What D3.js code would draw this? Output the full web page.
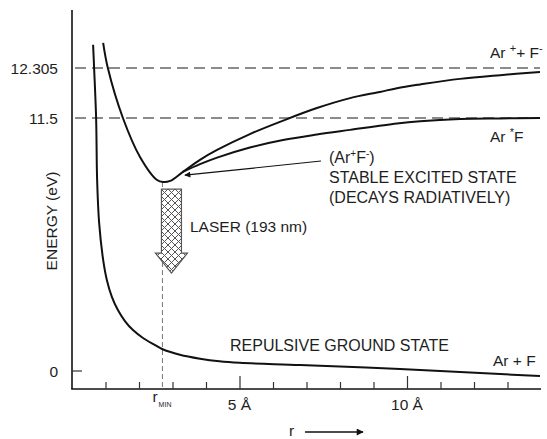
<!DOCTYPE html>
<html>
<head>
<meta charset="utf-8">
<script src="https://cdn.jsdelivr.net/npm/d3@7"></script>
<style>
  html, body { margin: 0; padding: 0; background: #fff; }
  svg { display: block; }
  text { font-family: "Liberation Sans", Arial, Helvetica, sans-serif; fill: #1e1e1e; }
</style>
</head>
<body>
<svg id="chart" width="547" height="439"></svg>
<script>
// ---------------- data (r in Å, energy in eV on the schematic axis) ----------------
const yTickValues = [0, 11.5, 12.305];
const yTickLabels = ["0", "11.5", "12.305"];
const xMinorTicks = [1, 2, 3, 4, 6, 7, 8, 9, 11, 12, 13];
const xMajorTicks = [5, 10];
const xMajorLabels = ["5 Å", "10 Å"];
const rMin = 2.7;
const asymptotes = [12.305, 11.5];

// Repulsive ground state Ar + F
const groundR = [0.63, 0.66, 0.72, 0.75, 0.81, 0.93, 1.04, 1.19, 1.37, 1.58, 1.82, 2.12, 2.48, 2.69, 3.22, 3.82, 4.40, 5.01, 6.81, 9.79, 12.78, 13.97];
const groundE = [12.68, 12.305, 11.5, 8.68, 6.73, 5.05, 4.14, 3.37, 2.77, 2.27, 1.86, 1.50, 1.18, 1.0, 0.74, 0.56, 0.44, 0.37, 0.27, 0.09, -0.14, -0.23];

// Ionic excited state -> Ar+ + F-
const ionicR = [0.93, 1.07, 1.52, 2.03, 2.54, 2.72, 2.93, 3.31, 3.82, 4.33, 5.31, 6.30, 7.31, 8.30, 9.19, 9.70, 10.39, 11.58, 12.78, 13.97];
const ionicE = [12.71, 12.305, 11.5, 9.73, 8.68, 8.59, 8.64, 9.05, 9.60, 10.05, 10.77, 11.38, 11.66, 11.82, 11.92, 11.98, 12.04, 12.13, 12.19, 12.24];

// Covalent excited state -> Ar*F
const covR = [3.31, 3.82, 4.33, 5.31, 6.30, 7.31, 8.30, 9.70, 10.39, 11.58, 12.78, 13.97];
const covE = [9.05, 9.40, 9.70, 10.16, 10.50, 10.75, 10.96, 11.25, 11.35, 11.45, 11.48, 11.50];

// Laser transition (energies along the r_MIN line)
const laserTopE = 8.27;
const laserTipE = 4.45;

// ---------------- layout ----------------
const svg = d3.select("#chart");
const x = d3.scaleLinear().domain([0, 14]).range([72, 541]);
const y = d3.scaleLinear().domain([0, 11.5, 12.305, 13.23]).range([371, 118, 68, 10.5]);
const axisY = 389;

const zip = (a, b) => a.map((v, i) => [v, b[i]]);
const line = d3.line().x(d => x(d[0])).y(d => y(d[1])).curve(d3.curveCatmullRom.alpha(0.5));

// defs: crosshatch + arrow markers
const defs = svg.append("defs");
const pat = defs.append("pattern").attr("id", "hatch").attr("patternUnits", "userSpaceOnUse")
  .attr("width", 7).attr("height", 7);
pat.append("rect").attr("width", 7).attr("height", 7).attr("fill", "#fff");
pat.append("path").attr("d", "M0,0 L7,7 M7,0 L0,7").attr("stroke", "#555").attr("stroke-width", 1);

defs.append("marker").attr("id", "ah").attr("viewBox", "0 0 10 10").attr("refX", 9).attr("refY", 5)
  .attr("markerWidth", 9).attr("markerHeight", 6).attr("orient", "auto").attr("markerUnits", "userSpaceOnUse")
  .append("path").attr("d", "M0,0 L10,5 L0,10 Z").attr("fill", "#111");
defs.append("marker").attr("id", "ah2").attr("viewBox", "0 0 10 10").attr("refX", 9).attr("refY", 5)
  .attr("markerWidth", 12).attr("markerHeight", 7).attr("orient", "auto").attr("markerUnits", "userSpaceOnUse")
  .append("path").attr("d", "M0,0 L10,5 L0,10 Z").attr("fill", "#111");

// asymptote dashed lines
svg.selectAll(".asym").data(asymptotes).enter().append("line")
  .attr("x1", 75).attr("x2", x(13.97))
  .attr("y1", d => y(d)).attr("y2", d => y(d))
  .attr("stroke", "#666").attr("stroke-width", 1.6).attr("stroke-dasharray", "11,6");

// r_MIN dashed vertical
svg.append("line").attr("x1", x(rMin)).attr("x2", x(rMin))
  .attr("y1", y(8.59)).attr("y2", axisY)
  .attr("stroke", "#777").attr("stroke-width", 1).attr("stroke-dasharray", "5,3");

// axes lines
svg.append("line").attr("x1", x(0)).attr("x2", x(0)).attr("y1", 10).attr("y2", axisY)
  .attr("stroke", "#111").attr("stroke-width", 1.6);
svg.append("line").attr("x1", x(0) - 0.8).attr("x2", x(14)).attr("y1", axisY).attr("y2", axisY)
  .attr("stroke", "#111").attr("stroke-width", 1.6);

// x ticks (pointing up)
const xAxisMinor = d3.axisTop(x).tickValues(xMinorTicks).tickSize(7).tickFormat("");
const gMinor = svg.append("g").attr("transform", `translate(0,${axisY})`).call(xAxisMinor);
const xAxisMajor = d3.axisTop(x).tickValues(xMajorTicks).tickSize(13).tickFormat("");
const gMajor = svg.append("g").attr("transform", `translate(0,${axisY})`).call(xAxisMajor);
[gMinor, gMajor].forEach(g => {
  g.select(".domain").remove();
  g.selectAll(".tick line").attr("stroke", "#333").attr("stroke-width", 1.2);
});

// x tick labels
svg.selectAll(".xl").data(xMajorTicks).enter().append("text")
  .attr("x", d => x(d)).attr("y", 410).attr("text-anchor", "middle")
  .attr("font-size", 15.5).text((d, i) => xMajorLabels[i]);
const rm = svg.append("text").attr("x", x(rMin) - 10).attr("y", 402).attr("font-size", 15.5);
rm.append("tspan").text("r");
rm.append("tspan").attr("font-size", 7).attr("dy", 5).attr("dx", 1).text("MIN");

// y ticks: "0" has a short inward tick
svg.append("line").attr("x1", x(0)).attr("x2", x(0) + 10).attr("y1", y(0)).attr("y2", y(0))
  .attr("stroke", "#333").attr("stroke-width", 1.2);
svg.selectAll(".yl").data(yTickValues).enter().append("text")
  .attr("x", 58).attr("y", d => y(d) + 5.5).attr("text-anchor", "end")
  .attr("font-size", 15.5).text((d, i) => yTickLabels[i]);

// axis titles
svg.append("text").attr("transform", "translate(57,221) rotate(-90)")
  .attr("text-anchor", "middle").attr("font-size", 15.5).text("ENERGY (eV)");
svg.append("text").attr("x", 289).attr("y", 436).attr("font-size", 15.5).text("r");
svg.append("line").attr("x1", 305).attr("x2", 363).attr("y1", 432).attr("y2", 432)
  .attr("stroke", "#111").attr("stroke-width", 1.3).attr("marker-end", "url(#ah2)");

// curves
[[groundR, groundE], [ionicR, ionicE], [covR, covE]].forEach(([r, e]) => {
  svg.append("path").datum(zip(r, e)).attr("d", line)
    .attr("fill", "none").attr("stroke", "#111").attr("stroke-width", 2);
});

// laser hatched arrow
const lx0 = x(rMin) - 1, lw = 20, hw = 16;
const lTop = y(laserTopE), lTip = y(laserTipE), lSh = lTip - 20;
const cx = lx0 + lw / 2;
svg.append("path")
  .attr("d", `M${lx0},${lTop} L${lx0 + lw},${lTop} L${lx0 + lw},${lSh} L${cx + hw},${lSh} L${cx},${lTip} L${cx - hw},${lSh} L${lx0},${lSh} Z`)
  .attr("fill", "url(#hatch)").attr("stroke", "#555").attr("stroke-width", 1.2);

// labels
svg.append("text").attr("x", 190).attr("y", 232).attr("font-size", 15.5).text("LASER (193 nm)");
svg.append("text").attr("x", 230).attr("y", 351).attr("font-size", 16).text("REPULSIVE GROUND STATE");
svg.append("text").attr("x", 493).attr("y", 366).attr("font-size", 15.5).text("Ar + F");

const t1 = svg.append("text").attr("x", 490).attr("y", 58).attr("font-size", 15.5);
t1.append("tspan").text("Ar ");
t1.append("tspan").attr("font-size", 11).attr("dy", -6).text("+");
t1.append("tspan").attr("dy", 6).text("+ F");
t1.append("tspan").attr("font-size", 11).attr("dy", -6).text("-");

const t2 = svg.append("text").attr("x", 490).attr("y", 142).attr("font-size", 15.5);
t2.append("tspan").text("Ar ");
t2.append("tspan").attr("font-size", 11).attr("dy", -6).text("*");
t2.append("tspan").attr("dy", 6).text("F");

const t3 = svg.append("text").attr("x", 329).attr("y", 163).attr("font-size", 16);
t3.append("tspan").text("(Ar");
t3.append("tspan").attr("font-size", 10).attr("dy", -6).text("+");
t3.append("tspan").attr("dy", 6).text("F");
t3.append("tspan").attr("font-size", 10).attr("dy", -6).text("-");
t3.append("tspan").attr("dy", 6).text(")");
svg.append("text").attr("x", 329).attr("y", 183).attr("font-size", 16).text("STABLE EXCITED STATE");
svg.append("text").attr("x", 329).attr("y", 203).attr("font-size", 16).text("(DECAYS RADIATIVELY)");

// pointer arrow from label to the excited-state well
svg.append("line").attr("x1", 321).attr("y1", 161).attr("x2", x(3.37)).attr("y2", y(8.9))
  .attr("stroke", "#111").attr("stroke-width", 1.2).attr("marker-end", "url(#ah)");
</script>
</body>
</html>
